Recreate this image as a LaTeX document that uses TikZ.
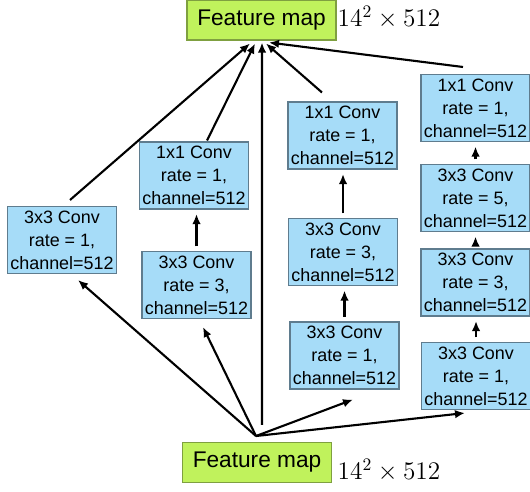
\documentclass[tikz,border=0pt]{standalone}
\usepackage{fontspec}
\usepackage{tikz}
\usetikzlibrary{arrows.meta}
\newfontfamily\helv{Liberation Sans}
\definecolor{convFill}{HTML}{A6DCF8}
\definecolor{convEdge}{HTML}{5F7C8E}
\definecolor{mapFill}{HTML}{C0F25C}
\definecolor{mapEdge}{HTML}{7FA040}

\begin{document}
\begin{tikzpicture}[
    x=0.02cm, y=-0.02cm,
    conv/.style={rectangle, draw=convEdge, fill=convFill, line width=0.6pt, minimum width=2.18cm, minimum height=1.34cm, inner sep=0pt, align=center, font=\helv\fontsize{10.2}{13}\selectfont},
    fmap/.style={rectangle, draw=mapEdge, fill=mapFill, line width=0.6pt, minimum width=2.98cm, minimum height=0.8cm, inner sep=0pt, font=\helv\fontsize{12.9}{15}\selectfont},
    dims/.style={font=\fontsize{13.8}{16}\selectfont},
    arrow/.style={->, >={Latex[length=0.2cm,width=0.17cm]}, line width=1.2pt},
    uparrow/.style={arrow, line width=1.4pt, shorten >=0.09cm, shorten <=0.09cm}
]
\useasboundingbox (0,0) rectangle (530,491);

% input and output
\node[fmap] (top) at (261.5,20) {Feature map};
\node[fmap] (bot) at (257,462.5) {Feature map};
\node[dims] (topdim) at (389,17) {$14^2\times 512$};
\node[dims] (botdim) at (389,470) {$14^2\times 512$};

% branch 1
\node[conv] (c1) at (62,240) {3x3 Conv\\rate = 1,\\channel=512};

% branch 2
\node[conv] (c2a) at (194,175.5) {1x1 Conv\\rate = 1,\\channel=512};
\node[conv] (c2b) at (196.5,285) {3x3 Conv\\rate = 3,\\channel=512};

% branch 3
\node[conv] (c3a) at (342.5,135.5) {1x1 Conv\\rate = 1,\\channel=512};
\node[conv] (c3b) at (343,252) {3x3 Conv\\rate = 3,\\channel=512};
\node[conv] (c3c) at (344.5,355.5) {3x3 Conv\\rate = 1,\\channel=512};

% branch 4
\node[conv] (c4a) at (475.5,108) {1x1 Conv\\rate = 1,\\channel=512};
\node[conv] (c4b) at (475.5,198) {3x3 Conv\\rate = 5,\\channel=512};
\node[conv] (c4c) at (475.5,282.5) {3x3 Conv\\rate = 3,\\channel=512};
\node[conv] (c4d) at (476,376) {3x3 Conv\\rate = 1,\\channel=512};

\coordinate (fan) at (256,436);

% from the input
\draw[arrow] (fan) -- ([shift={(16,6)}]c1.south);
\draw[arrow] (fan) -- ([shift={(6.5,8)}]c2b.south);
\draw[arrow] ([shift={(5,-17)}]bot.north) -- ([shift={(0.5,2)}]top.south);
\draw[arrow] (fan) -- ([shift={(8.5,10)}]c3c.south);
\draw[arrow] (fan) -- ([shift={(-11,3)}]c4d.south);

% inside the branches
\draw[uparrow] (c2b.north) -- (c2b.north |- c2a.south);
\draw[uparrow] (c3c.north) -- (c3c.north |- c3b.south);
\draw[uparrow] (c3b.north) -- (c3b.north |- c3a.south);
\draw[uparrow] (c4d.north) -- (c4d.north |- c4c.south);
\draw[uparrow] (c4c.north) -- (c4c.north |- c4b.south);
\draw[uparrow] (c4b.north) -- (c4b.north |- c4a.south);

% into the output
\draw[arrow] ([shift={(8,-6)}]c1.north) -- ([shift={(-11.5,3)}]top.south);
\draw[arrow] ([shift={(13,-1)}]c2a.north) -- ([shift={(-6.5,3)}]top.south);
\draw[arrow] ([shift={(-20.5,-9)}]c3a.north) -- ([shift={(4.5,3)}]top.south);
\draw[arrow] ([shift={(-12.5,-7)}]c4a.north) -- ([shift={(7.5,2)}]top.south);

\end{tikzpicture}
\end{document}
